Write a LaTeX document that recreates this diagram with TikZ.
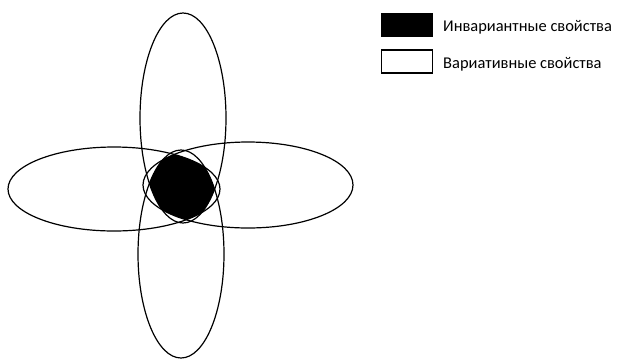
\documentclass[tikz,border=0pt]{standalone}
\usepackage{fontspec}
\setmainfont{Carlito}
\begin{document}
\begin{tikzpicture}[x=1bp,y=-1bp,
  lobe/.style={draw=black,line width=1.2bp},
  legbox/.style={draw=black,line width=1.1bp,minimum width=51bp,minimum height=23bp,inner sep=0pt},
  legtext/.style={anchor=base west,inner sep=0pt,font=\fontsize{16.5}{18}\selectfont}]
\useasboundingbox (0,0) rectangle (617,361);
% filled common region
\begin{scope}
  \clip (183,118) ellipse [x radius=43, y radius=105];
  \clip (181,254) ellipse [x radius=43, y radius=104];
  \clip (114,189) ellipse [x radius=106, y radius=42];
  \fill[black] (248,185) ellipse [x radius=105, y radius=43];
\end{scope}
\draw[lobe] (183,118) ellipse [x radius=43, y radius=105];
\draw[lobe] (181,254) ellipse [x radius=43, y radius=104];
\draw[lobe] (114,189) ellipse [x radius=106, y radius=42];
\draw[lobe] (248,185) ellipse [x radius=105, y radius=43];
% legend
\node[legbox,fill=black] (inv) at (407,25) {};
\node[legbox,fill=white] (var) at (407,61.5) {};
\node[legtext] (invt) at (443,31) {Инвариантные свойства};
\node[legtext] (vart) at (443,68) {Вариативные свойства};
\end{tikzpicture}
\end{document}
